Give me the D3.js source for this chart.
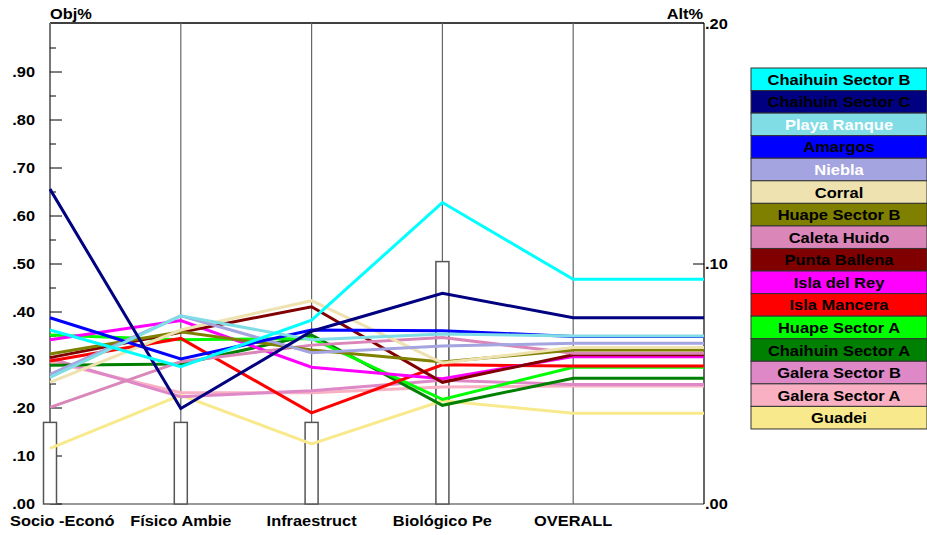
<!DOCTYPE html>
<html><head><meta charset="utf-8">
<script src="https://cdn.jsdelivr.net/npm/d3@7"></script>
<style>
body{margin:0;background:#fff;}
text{font-family:"Liberation Sans",Arial,sans-serif;font-weight:bold;}
</style></head>
<body><svg id="c" width="927" height="535"></svg>
<script>
const categories = ["Socio -Econó","Físico Ambie","Infraestruct","Biológico Pe","OVERALL"];
const weights = [0.17, 0.17, 0.17, 0.505];
const objTicks = [".00",".10",".20",".30",".40",".50",".60",".70",".80",".90"];
const altTicks = [".00",".10",".20"];
const names = ["Chaihuin Sector B","Chaihuin Sector C","Playa Ranque","Amargos","Niebla","Corral","Huape Sector B","Caleta Huido","Punta Ballena","Isla del Rey","Isla Mancera","Huape Sector A","Chaihuin Sector A","Galera Sector B","Galera Sector A","Guadei"];
const colors = ["#00FFFF","#000080","#80DDE6","#0000FF","#A4A4E0","#EEE2B0","#808000","#DA86B8","#800000","#FF00FF","#FF0000","#00FF00","#008000","#DE88C8","#F8B0C2","#F8EA8C"];
const textColors = ["#000","#000","#fff","#000","#fff","#000","#000","#000","#000","#000","#000","#000","#000","#000","#000","#000"];
const values = [
  [0.3625, 0.286, 0.383, 0.628, 0.468],
  [0.656, 0.199, 0.360, 0.439, 0.388],
  [0.264, 0.392, 0.342, 0.354, 0.350],
  [0.388, 0.302, 0.3625, 0.361, 0.349],
  [0.270, 0.392, 0.315, 0.329, 0.335],
  [0.2535, 0.3625, 0.4236, 0.294, 0.326],
  [0.3125, 0.359, 0.321, 0.296, 0.321],
  [0.2014, 0.2965, 0.331, 0.347, 0.314],
  [0.305, 0.358, 0.411, 0.2535, 0.311],
  [0.342, 0.382, 0.285, 0.261, 0.307],
  [0.298, 0.345, 0.190, 0.290, 0.2875],
  [0.352, 0.342, 0.345, 0.218, 0.285],
  [0.289, 0.2917, 0.352, 0.2056, 0.262],
  [0.303, 0.2235, 0.236, 0.258, 0.249],
  [0.297, 0.232, 0.232, 0.244, 0.246],
  [0.116, 0.227, 0.125, 0.215, 0.189]
];

const svg = d3.select("#c");
const yTop = 24, yBot = 504, xL = 50, xR = 704;
const y = d3.scaleLinear().domain([0, 1]).range([yBot, yTop]);
const yAlt = d3.scaleLinear().domain([0, 0.2]).range([yBot, yTop]);
const x = d3.scalePoint().domain([...categories, "_end"]).range([xL, xR]);

function label(px, py, str, anchor, size, sx, fill) {
  return svg.append("text")
    .attr("transform", `translate(${px},${py}) scale(${sx},1)`)
    .attr("text-anchor", anchor).attr("font-size", size)
    .attr("fill", fill || "#000").text(str);
}

// frame
svg.append("line").attr("x1", xL).attr("x2", xR).attr("y1", yTop-1).attr("y2", yTop-1).attr("stroke", "#000").attr("stroke-width", 1.5);
svg.append("line").attr("x1", xL).attr("x2", xR).attr("y1", yBot).attr("y2", yBot).attr("stroke", "#777").attr("stroke-width", 1.5);
svg.append("line").attr("x1", xR).attr("x2", xR).attr("y1", yTop-1).attr("y2", yBot).attr("stroke", "#000").attr("stroke-width", 1.2);

// criterion vertical lines
categories.slice(1).forEach(c => {
  svg.append("line").attr("x1", x(c)).attr("x2", x(c)).attr("y1", yTop-1).attr("y2", yBot)
    .attr("stroke", "#666").attr("stroke-width", 1.2);
});

// left axis
const gL = svg.append("g").attr("transform", `translate(${xL},0)`);
gL.append("line").attr("y1", yTop-1).attr("y2", yBot).attr("stroke", "#777").attr("stroke-width", 2);
d3.range(0, 20).forEach(i => {
  const v = i * 0.05;
  const major = i % 2 === 0;
  gL.append("line").attr("x1", 0).attr("x2", major ? 12 : 6).attr("y1", y(v)).attr("y2", y(v)).attr("stroke", "#000").attr("stroke-width", 1);
});
objTicks.forEach((t, i) => {
  label(xL - 15, y(i * 0.1) + 5, t, "end", 14, 1.17);
});
label(xL, 19, "Obj%", "start", 14, 1.17);

// right axis
svg.append("line").attr("x1", xR - 11).attr("x2", xR).attr("y1", yAlt(0.1)).attr("y2", yAlt(0.1)).attr("stroke", "#000");
altTicks.forEach((t, i) => {
  label(xR + 1, yAlt(i * 0.1) + 5, t, "start", 14, 1.17);
});
label(xR - 1, 19, "Alt%", "end", 14, 1.17);

// weight bars
weights.forEach((w, i) => {
  const cx = x(categories[i]);
  svg.append("rect").attr("x", cx - 6.5).attr("width", 13).attr("y", y(w)).attr("height", yBot - y(w))
    .attr("fill", "#fff").attr("stroke", "#555").attr("stroke-width", 1.5);
});

// lines
const line = d3.line().x(d => d[0]).y(d => y(d[1]));
for (let s = names.length - 1; s >= 0; s--) {
  const pts = values[s].map((v, i) => [x(categories[i]), v]);
  pts.push([x("_end"), values[s][values[s].length - 1]]);
  svg.append("path").attr("d", line(pts)).attr("fill", "none").attr("stroke", colors[s]).attr("stroke-width", 3);
}

// category labels
categories.forEach((c, i) => {
  if (i === 0) label(10, 526, c, "start", 14, 1.17);
  else label(x(c), 526, c, "middle", 14, 1.17);
});

// legend
const lx = 751, lw = 176, ly = 68, lh = 22.56;
names.forEach((n, i) => {
  svg.append("rect").attr("x", lx).attr("y", ly + i * lh).attr("width", lw).attr("height", lh)
    .attr("fill", colors[i]).attr("stroke", "#333").attr("stroke-width", 1);
  label(lx + lw / 2, ly + i * lh + lh / 2 + 5.5, n, "middle", 15, 1.1, textColors[i]);
});
</script></body></html>
